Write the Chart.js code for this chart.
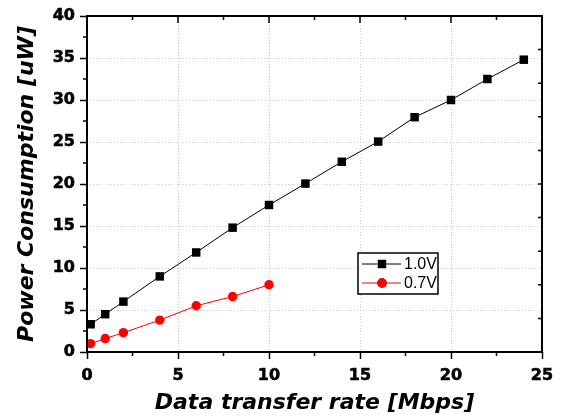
<!DOCTYPE html>
<html>
<head>
<meta charset="utf-8">
<script src="https://cdn.jsdelivr.net/npm/chart.js@4.4.1/dist/chart.umd.min.js"></script>
<style>
  html, body { margin: 0; padding: 0; background: #fff; }
  #wrap { width: 561px; height: 417px; }
</style>
</head>
<body>
<div id="wrap"><canvas id="power_chart"></canvas></div>
<script>
// data
const rates_10 = [0.2, 1, 2, 4, 6, 8, 10, 12, 14, 16, 18, 20, 22, 24];
const power_10 = [3.3, 4.5, 6.0, 9.0, 11.85, 14.8, 17.5, 20.05, 22.65, 25.05, 27.95, 30.0, 32.5, 34.8];
const rates_07 = [0.2, 1, 2, 4, 6, 8, 10];
const power_07 = [1.0, 1.6, 2.3, 3.8, 5.5, 6.6, 8.0];
const series_labels = ['1.0V', '0.7V'];
const x_ticks = [0, 5, 10, 15, 20, 25];
const y_ticks = [0, 5, 10, 15, 20, 25, 30, 35, 40];

const toPoints = (xs, ys) => xs.map((v, i) => ({x: v, y: ys[i]}));

// minor ticks, top/right ticks, frame and the boxed legend
const frameTicks = {
    id: 'frameTicks',
    afterDraw(chart) {
        const ctx = chart.ctx;
        const a = chart.chartArea;
        const xs = chart.scales.x;
        const ys = chart.scales.y;
        ctx.save();
        ctx.strokeStyle = '#000';
        ctx.lineWidth = 1.5;
        ctx.beginPath();
        // bottom (outward) + top (inward)
        for (let v = 0; v <= 25; v += 2.5) {
            const px = xs.getPixelForValue(v);
            const major = v % 5 === 0;
            if (!major) {
                ctx.moveTo(px, a.bottom);
                ctx.lineTo(px, a.bottom + 4);
            }
            ctx.moveTo(px, a.top);
            ctx.lineTo(px, a.top + (major ? 7 : 4));
        }
        // left minor (outward)
        for (let v = 2.5; v < 40; v += 5) {
            const py = ys.getPixelForValue(v);
            ctx.moveTo(a.left, py);
            ctx.lineTo(a.left - 4, py);
        }
        // right (inward) every 4
        for (let v = 4; v < 40; v += 4) {
            const py = ys.getPixelForValue(v);
            ctx.moveTo(a.right, py);
            ctx.lineTo(a.right - 4, py);
        }
        ctx.stroke();

        ctx.lineWidth = 2;
        ctx.strokeRect(a.left, a.top, a.right - a.left, a.bottom - a.top);

        // legend
        const lx = 358, ly = 253, lw = 80, lh = 41;
        ctx.fillStyle = '#fff';
        ctx.fillRect(lx, ly, lw, lh);
        ctx.lineWidth = 1.5;
        ctx.strokeRect(lx, ly, lw, lh);
        ctx.font = '16px "Liberation Sans", Arial, sans-serif';
        ctx.textBaseline = 'middle';
        chart.data.datasets.forEach((ds, i) => {
            const cy = ly + 11 + i * 19;
            ctx.strokeStyle = ds.borderColor;
            ctx.lineWidth = 1;
            ctx.beginPath();
            ctx.moveTo(lx + 4, cy);
            ctx.lineTo(lx + 43, cy);
            ctx.stroke();
            Chart.helpers.drawPoint(ctx, {
                pointStyle: ds.pointStyle,
                radius: ds.pointRadius,
                borderWidth: 0
            }, lx + 24, cy);
            ctx.fillStyle = ds.pointBackgroundColor;
            ctx.fill();
            ctx.fillStyle = '#000';
            ctx.fillText(ds.label, lx + 46, cy + 1);
        });
        ctx.restore();
    }
};

const tickFont = {family: '"DejaVu Sans", sans-serif', size: 16, weight: 'bold'};
const titleFont = {family: '"DejaVu Sans", sans-serif', size: 22, weight: 'bold', style: 'italic'};

new Chart(document.getElementById('power_chart'), {
    type: 'line',
    data: {
        datasets: [
            {
                label: series_labels[0],
                data: toPoints(rates_10, power_10),
                borderColor: '#000',
                backgroundColor: '#000',
                pointBackgroundColor: '#000',
                pointBorderColor: '#000',
                borderWidth: 1,
                pointStyle: 'rect',
                pointRadius: 6,
                pointBorderWidth: 0
            },
            {
                label: series_labels[1],
                data: toPoints(rates_07, power_07),
                borderColor: '#ff0000',
                backgroundColor: '#ff0000',
                pointBackgroundColor: '#ff0000',
                pointBorderColor: '#ff0000',
                borderWidth: 1,
                pointStyle: 'circle',
                pointRadius: 4.7,
                pointBorderWidth: 0
            }
        ]
    },
    options: {
        responsive: true,
        maintainAspectRatio: false,
        animation: false,
        layout: {padding: {top: 16, right: 19, left: 0, bottom: 0}},
        plugins: {
            legend: {display: false},
            tooltip: {enabled: false}
        },
        scales: {
            x: {
                type: 'linear',
                min: 0,
                max: 25,
                afterBuildTicks: (s) => { s.ticks = x_ticks.map(v => ({value: v})); },
                afterFit: (s) => { s.height = 65; },
                ticks: {color: '#000', font: tickFont, padding: 7, maxRotation: 0,
                        textStrokeColor: '#000', textStrokeWidth: 0.6},
                grid: {color: '#cccccc', lineWidth: 1, tickColor: '#000', tickLength: 7, tickWidth: 1.5},
                border: {display: false, dash: [1, 2]},
                title: {display: true, text: 'Data transfer rate [Mbps]', color: '#000', font: titleFont, padding: {top: 0, bottom: 1}}
            },
            y: {
                type: 'linear',
                min: 0,
                max: 40,
                afterBuildTicks: (s) => { s.ticks = y_ticks.map(v => ({value: v})); },
                afterFit: (s) => { s.width = 87; },
                ticks: {color: '#000', font: tickFont, padding: 5,
                        textStrokeColor: '#000', textStrokeWidth: 0.6},
                grid: {color: '#cccccc', lineWidth: 1, tickColor: '#000', tickLength: 7, tickWidth: 1.5},
                border: {display: false, dash: [1, 2]},
                title: {display: true, text: 'Power Consumption [uW]', color: '#000', font: titleFont, padding: {top: 14, bottom: 0}}
            }
        }
    },
    plugins: [frameTicks]
});
</script>
</body>
</html>
